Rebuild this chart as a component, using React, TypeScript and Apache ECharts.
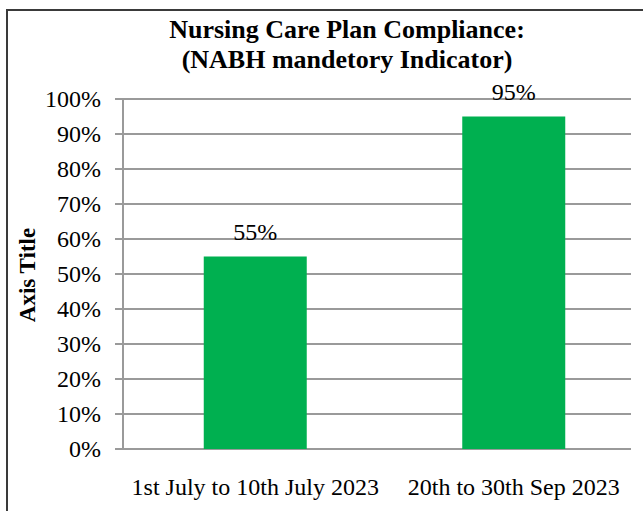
import React, { useEffect, useRef } from "react";
import * as echarts from "echarts";

const categories = ["1st July to 10th July 2023", "20th to 30th Sep 2023"];
const values = [0.55, 0.95];
const titleLines = ["Nursing Care Plan Compliance:", "(NABH mandetory Indicator)"];
const axisTitle = "Axis Title";

const FONT = "'Liberation Serif', 'Times New Roman', serif";

export default function App() {
  const ref = useRef<HTMLDivElement>(null);
  useEffect(() => {
    document.body.style.margin = "0";
    const chart = echarts.init(ref.current!, null, { renderer: "svg" });
    chart.setOption({
      animation: false,
      backgroundColor: "#ffffff",
      title: {
        text: titleLines.join("\n"),
        left: 342,
        top: 9,
        textAlign: "center",
        textStyle: {
          fontFamily: FONT,
          fontWeight: "bold",
          fontSize: 26,
          lineHeight: 30,
          color: "#000",
        },
      },
      graphic: [
        {
          type: "rect",
          shape: { x: 7, y: 10, width: 700, height: 600 },
          style: { fill: "none", stroke: "#3a3a3a", lineWidth: 2 },
          silent: true,
        },
        {
          type: "text",
          x: 27,
          y: 275,
          rotation: Math.PI / 2,
          style: {
            text: axisTitle,
            fontFamily: FONT,
            fontWeight: "bold",
            fontSize: 23,
            fill: "#000",
            align: "center",
            verticalAlign: "middle",
          },
        },
      ],
      grid: [
        { left: 123, right: 12, top: 99, bottom: 62 },
        { left: 126, right: 0, top: 99, bottom: 62 },
      ],
      xAxis: [
        {
          type: "category",
          gridIndex: 0,
          data: categories,
          show: false,
        },
        {
          type: "category",
          gridIndex: 1,
          data: categories,
          axisLine: { show: false },
          axisTick: { show: false },
          axisLabel: {
            interval: 0,
            hideOverlap: false,
            fontFamily: FONT,
            fontSize: 24,
            color: "#000",
            margin: 26,
          },
        },
      ],
      yAxis: [
        {
          type: "value",
          gridIndex: 0,
          min: 0,
          max: 1,
          interval: 0.1,
          axisLine: { show: true, lineStyle: { color: "#9a9a9a", width: 2 } },
          axisTick: { show: true, length: 8, lineStyle: { color: "#9a9a9a", width: 2 } },
          splitLine: { show: true, lineStyle: { color: "#9a9a9a", width: 2 } },
          axisLabel: {
            fontFamily: FONT,
            fontSize: 24,
            color: "#000",
            margin: 22,
            formatter: (v: number) => Math.round(v * 100) + "%",
          },
        },
        {
          type: "value",
          gridIndex: 1,
          min: 0,
          max: 1,
          interval: 0.1,
          show: false,
          splitLine: { show: false },
        },
      ],
      series: [
        {
          type: "bar",
          xAxisIndex: 1,
          yAxisIndex: 1,
          data: values,
          barWidth: 103,
          itemStyle: { color: "#00B050" },
          label: {
            show: true,
            position: "top",
            distance: 13,
            fontFamily: FONT,
            fontSize: 24,
            color: "#000",
            formatter: (p: any) => Math.round(p.value * 100) + "%",
          },
        },
      ],
    });
    return () => chart.dispose();
  }, []);
  return (
    <div
      ref={ref}
      style={{ position: "absolute", left: 0, top: 0, width: 643, height: 511 }}
    />
  );
}
